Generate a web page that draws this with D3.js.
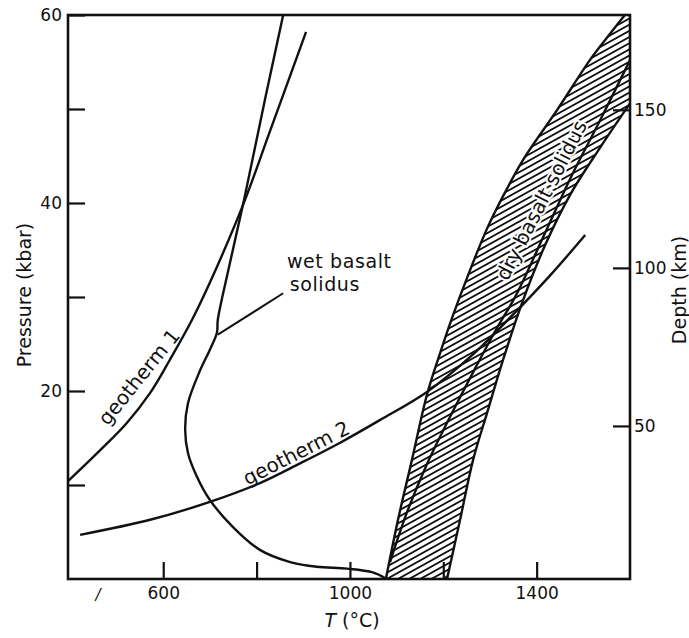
<!DOCTYPE html>
<html>
<head>
<meta charset="utf-8">
<script src="https://cdn.jsdelivr.net/npm/d3@7"></script>
<style>
  body { margin: 0; background: #fff; }
  text { font-family: "DejaVu Sans", sans-serif; fill: #111; }
</style>
</head>
<body>
<script>
// curves, each point is [T (°C), P (kbar)]
const geotherm1 = [[396, 10.4], [465, 13.7], [522, 16.6], [572, 19.8], [614, 23.3], [662, 27.6],
                   [715, 33.2], [775, 40.3], [827, 47.4], [906, 58.2]];
const geotherm2 = [[422, 4.7], [572, 6.3], [700, 8.2], [807, 10.2], [893, 12.3], [979, 14.5],
                   [1064, 16.9], [1165, 19.9], [1257, 23.6], [1343, 27.8], [1429, 32.3], [1504, 36.6]];
const wetSolidus = [[857, 60], [818, 51], [773, 40.3], [741, 33.2], [717, 27.6], [715, 26.2], [700, 24.4],
                    [679, 22.2], [653, 18.7], [647, 15.9], [653, 13.4], [672, 10.9], [700, 8.4], [750, 5.5],
                    [807, 3.1], [872, 1.8], [929, 1.3], [994, 1.1], [1049, 0.7], [1075, 0.1]];
// hatched band of the dry basalt solidus: lower edge, the solidus itself, upper edge
const dryLower = [[1077, 0], [1103, 6.3], [1133, 12.7], [1165, 19.6], [1193, 24.0], [1219, 27.8],
                  [1253, 32.3], [1294, 37.3], [1332, 41.1], [1371, 44.6], [1444, 49.9], [1514, 55.2],
                  [1551, 57.6], [1589, 60]];
const drySolidus = [[1086, 1.8], [1120, 6.8], [1163, 12.0], [1214, 17.2], [1266, 22.2], [1315, 26.7],
                    [1356, 30.2], [1418, 36.8], [1476, 43.0], [1536, 48.8], [1600, 55.2]];
const dryUpper = [[1208, 0], [1236, 6.3], [1264, 12.7], [1294, 17.7], [1328, 23.3], [1369, 29.4],
                  [1418, 35.5], [1472, 40.9], [1536, 45.9], [1600, 50.6]];
const wetPointer = [[717, 26.0], [857, 30.4]];

const tempTicks = [600, 800, 1000, 1200, 1400];
const tempLabels = [600, 1000, 1400];
const pressTicks = [10, 20, 30, 40, 50, 60];
const pressLabels = [20, 40, 60];
const depthTicks = [50, 100, 150];

const width = 689, height = 638;

let svg = d3.select("body").append("svg")
    .attr("width", width)
    .attr("height", height);

const x = d3.scaleLinear().domain([396, 1600]).range([68, 630]);
const y = d3.scaleLinear().domain([0, 60]).range([579, 15]);
const depth = d3.scaleLinear().domain([0, 180]).range([584, 15]);

const line = d3.line()
    .x(d => x(d[0]))
    .y(d => y(d[1]))
    .curve(d3.curveCatmullRom.alpha(0.5));

// diagonal hatching for the band
svg.append("defs").append("pattern")
    .attr("id", "hatch")
    .attr("patternUnits", "userSpaceOnUse")
    .attr("width", 8)
    .attr("height", 5.4)
    .attr("patternTransform", "rotate(-29)")
  .append("line")
    .attr("x1", 0).attr("x2", 8)
    .attr("y1", 2.7).attr("y2", 2.7)
    .attr("stroke", "#111")
    .attr("stroke-width", 1.8);

const bandPath = line(dryLower)
    + "L" + x(1600) + "," + y(60)
    + line(dryUpper.slice().reverse()).replace(/^M/, "L") + "Z";

svg.append("path")
    .attr("d", bandPath)
    .attr("fill", "url(#hatch)")
    .attr("stroke", "none");

// curves
let curves = svg.append("g").attr("fill", "none").attr("stroke", "#111").attr("stroke-width", 2.4);
[geotherm1, geotherm2, wetSolidus, dryLower, drySolidus, dryUpper].forEach(c => {
    curves.append("path").attr("d", line(c));
});
curves.append("path")
    .attr("d", d3.line().x(d => x(d[0])).y(d => y(d[1]))(wetPointer))
    .attr("stroke-width", 2);

// axes with inward ticks
function styleAxis(g) {
    g.select(".domain").remove();
    g.selectAll(".tick line").attr("stroke", "#111").attr("stroke-width", 2.2);
    g.selectAll(".tick text")
        .attr("font-size", 17)
        .attr("font-family", "DejaVu Sans, sans-serif")
        .attr("fill", "#111");
}

svg.append("g")
    .attr("transform", `translate(${x.range()[0]},0)`)
    .call(d3.axisLeft(y).tickValues(pressTicks).tickSize(-17).tickPadding(6)
        .tickFormat(d => pressLabels.includes(d) ? d : ""))
    .call(styleAxis);

svg.append("g")
    .attr("transform", `translate(0,${y.range()[0]})`)
    .call(d3.axisBottom(x).tickValues(tempTicks).tickSize(-17).tickPadding(8)
        .tickFormat(d => tempLabels.includes(d) ? d : ""))
    .call(styleAxis);

svg.append("g")
    .attr("transform", `translate(${x.range()[1]},0)`)
    .call(d3.axisRight(depth).tickValues(depthTicks).tickSize(-17).tickPadding(4))
    .call(styleAxis);

// frame
svg.append("rect")
    .attr("x", x.range()[0])
    .attr("y", y.range()[1])
    .attr("width", x.range()[1] - x.range()[0])
    .attr("height", y.range()[0] - y.range()[1])
    .attr("fill", "none")
    .attr("stroke", "#111")
    .attr("stroke-width", 2.6);

// axis titles
svg.append("text")
    .attr("transform", "translate(31,295) rotate(-90)")
    .attr("text-anchor", "middle")
    .attr("font-size", 19)
    .text("Pressure (kbar)");

svg.append("text")
    .attr("transform", "translate(686,290) rotate(-90)")
    .attr("text-anchor", "middle")
    .attr("font-size", 19)
    .text("Depth (km)");

let tTitle = svg.append("text")
    .attr("x", 352)
    .attr("y", 627)
    .attr("text-anchor", "middle")
    .attr("font-size", 19);
tTitle.append("tspan").attr("font-style", "italic").text("T");
tTitle.append("tspan").text(" (°C)");

// stray mark under the axis
svg.append("text")
    .attr("x", 98).attr("y", 600)
    .attr("text-anchor", "middle")
    .attr("font-size", 15)
    .attr("font-style", "italic")
    .attr("fill", "#333")
    .text("/");

// curve labels
svg.append("text")
    .attr("x", x(865)).attr("y", y(33.1))
    .attr("font-size", 19)
    .attr("letter-spacing", 0.6)
    .text("wet basalt");
svg.append("text")
    .attr("x", x(871)).attr("y", y(30.6))
    .attr("font-size", 19)
    .attr("letter-spacing", 0.6)
    .text("solidus");

function rotatedLabel(t, p, angle, txt) {
    return svg.append("text")
        .attr("transform", `translate(${x(t)},${y(p)}) rotate(${angle})`)
        .attr("text-anchor", "middle")
        .attr("dominant-baseline", "central")
        .attr("font-size", 20)
        .text(txt);
}

rotatedLabel(548, 21.5, -51, "geotherm 1");
rotatedLabel(885, 13.4, -27, "geotherm 2");
rotatedLabel(1410, 40.3, -63, "dry basalt solidus")
    .attr("stroke", "#fff")
    .attr("stroke-width", 4)
    .attr("paint-order", "stroke");
</script>
</body>
</html>
